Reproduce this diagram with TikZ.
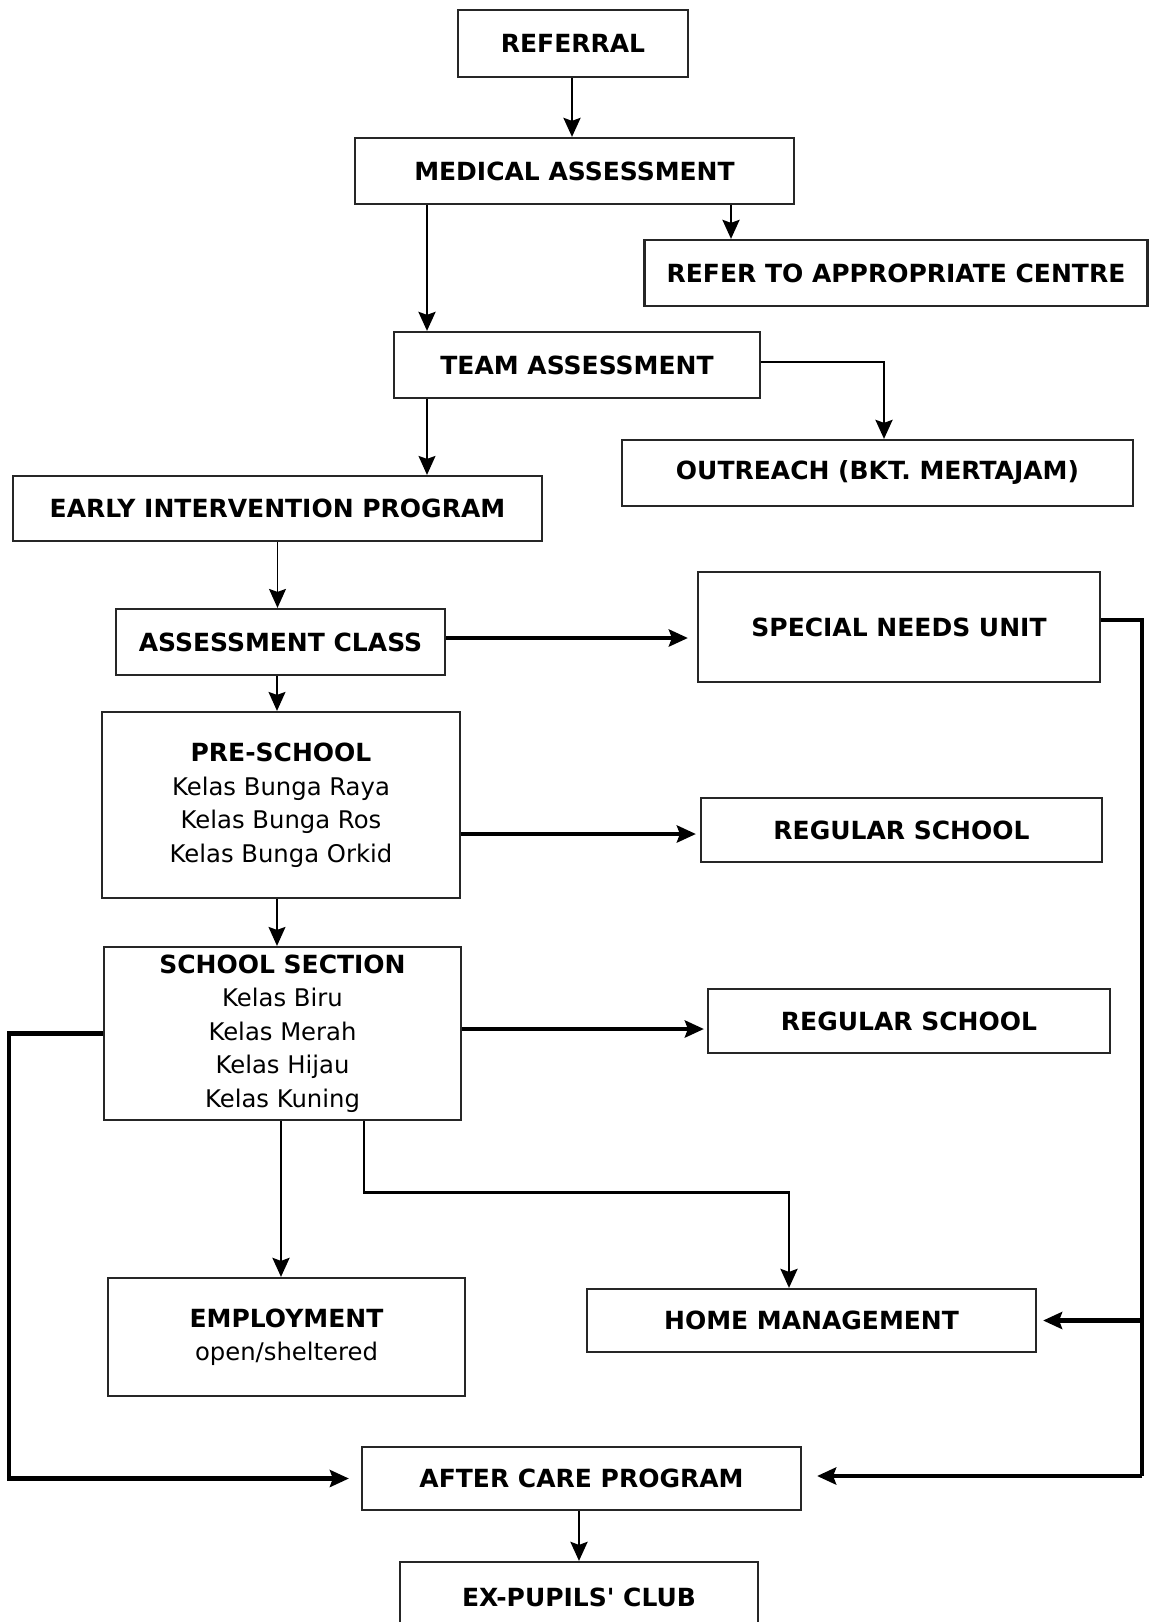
\documentclass[tikz,border=0pt]{standalone}
\usepackage{fontspec}
\setmainfont{DejaVu Sans}[Ligatures=TeXOff]
\usetikzlibrary{arrows.meta}
\newcommand{\regl}{\fontsize{24.3}{33.5}\selectfont}
\begin{document}
\begin{tikzpicture}[x=1pt,y=-1pt,
  box/.style={draw=black!85,line width=2.2pt,inner sep=0pt,align=center,
    font=\fontsize{25}{33.5}\selectfont},
  tip/.style={-{Stealth[length=19pt,width=17pt,inset=3pt]}},
  thinc/.style={tip,line width=1.4pt},
  medc/.style={tip,line width=2.8pt},
  thickc/.style={line width=4.5pt},
]
\useasboundingbox (0,0) rectangle (1149,1622);
\fill[white] (0,0) rectangle (1149,1622);
\begin{scope}
\clip (0,0) rectangle (1149,1622);
\node[box,minimum width=230pt,minimum height=67pt] (ref) at (573,43.5) {\bfseries REFERRAL};
\node[box,minimum width=439pt,minimum height=66pt] (med) at (574.5,171) {\bfseries MEDICAL ASSESSMENT};
\node[box,minimum width=503pt,minimum height=66pt] (refer) at (896,273) {\bfseries REFER TO APPROPRIATE CENTRE};
\node[box,minimum width=366pt,minimum height=66pt] (team) at (577,365) {\bfseries TEAM ASSESSMENT};
\node[box,minimum width=511pt,minimum height=66pt] (out) at (877.5,473) {\bfseries OUTREACH (BKT. MERTAJAM)};
\node[box,minimum width=529pt,minimum height=65pt] (early) at (277.5,508.5) {\bfseries EARLY INTERVENTION PROGRAM};
\node[box,minimum width=329pt,minimum height=66pt] (ac) at (280.5,642) {\bfseries ASSESSMENT CLASS};
\node[box,minimum width=402pt,minimum height=110pt] (snu) at (899,627) {\bfseries SPECIAL NEEDS UNIT};
\node[box,minimum width=358pt,minimum height=186pt] (pre) at (281,805) {\textbf{PRE-SCHOOL}\\{\regl Kelas Bunga Raya}\\{\regl Kelas Bunga Ros}\\{\regl Kelas Bunga Orkid}};
\node[box,minimum width=401pt,minimum height=64pt] (reg1) at (901.5,830) {\bfseries REGULAR SCHOOL};
\node[box,minimum width=357pt,minimum height=173pt] (ss) at (282.5,1033.5) {\textbf{SCHOOL SECTION}\\{\regl Kelas Biru}\\{\regl Kelas Merah}\\{\regl Kelas Hijau}\\{\regl Kelas Kuning}};
\node[box,minimum width=402pt,minimum height=64pt] (reg2) at (909,1021) {\bfseries REGULAR SCHOOL};
\node[box,minimum width=357pt,minimum height=118pt] (emp) at (286.5,1337) {\textbf{EMPLOYMENT}\\{\regl open/sheltered}};
\node[box,minimum width=449pt,minimum height=63pt] (home) at (811.5,1320.5) {\bfseries HOME MANAGEMENT};
\node[box,minimum width=439pt,minimum height=63pt] (acp) at (581.5,1478.5) {\bfseries AFTER CARE PROGRAM};
\node[box,minimum width=358pt,minimum height=70pt] (ex) at (579,1597) {\bfseries EX-PUPILS' CLUB};

\coordinate (rtop) at (1142,620);
\coordinate (rbot) at (1142,1476);

% connectors
\draw[medc] ([xshift=-1]ref.south) -- ([xshift=-1]ref.south |- med.north);
\draw[medc] ([xshift=156.5]med.south) -- ([xshift=156.5]med.south |- refer.north);
\draw[medc] ([xshift=-147.5]med.south) -- ([xshift=-147.5]med.south |- team.north);
\draw[medc] ([yshift=3]team.east) -| ([xshift=6.5]out.north);
\draw[thinc] ([xshift=-150]team.south) -- ([xshift=-150]team.south |- early.north);
\draw[thinc] (early.south) -- (early.south |- ac.north);
\draw[thickc,tip,shorten >=9pt] ([yshift=4]ac.east) -- ([yshift=4]ac.east -| snu.west);
\draw[thinc] ([xshift=-3.5]ac.south) -- ([xshift=-3.5]ac.south |- pre.north);
\draw[thickc,tip,shorten >=4pt] ([yshift=-29]pre.east) -- ([yshift=-29]pre.east -| reg1.west);
\draw[thinc] ([xshift=-4]pre.south) -- ([xshift=-4]pre.south |- ss.north);
\draw[thickc,tip,shorten >=3pt] ([yshift=4.5]ss.east) -- ([yshift=4.5]ss.east -| reg2.west);
\draw[thickc,tip,shorten >=12pt] (ss.west) -- ++(-94,0) |- (acp.west);
\draw[medc] ([xshift=-1.5]ss.south) -- ([xshift=-1.5]ss.south |- emp.north);
\draw[medc] ([xshift=81.5]ss.south) -- ++(0,71) -| ([xshift=-22.5]home.north);
\draw[thickc,line join=miter] ([yshift=7]snu.east) -- (rtop) -- (rbot);
\draw[thickc,tip,shorten >=15pt] (rbot) -- (rbot -| acp.east);
\draw[thickc,tip,shorten >=6pt] (rtop |- home.east) -- (home.east);
\draw[medc] ([xshift=-2.5]acp.south) -- ([xshift=-2.5]acp.south |- ex.north);
\end{scope}
\end{tikzpicture}
\end{document}
